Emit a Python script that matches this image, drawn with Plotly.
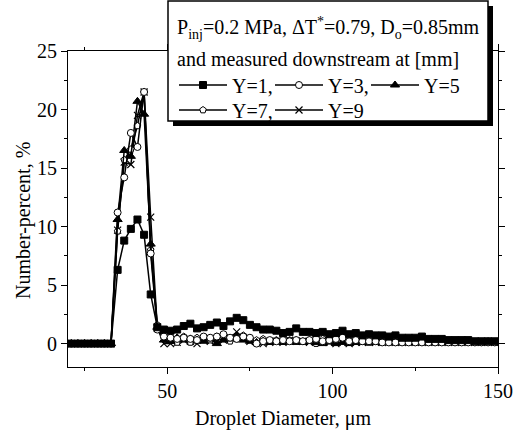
import plotly.graph_objects as go

# ---------------- data ----------------
diameter = [21, 23, 25, 27, 29, 31, 33, 35, 37, 39, 41, 43, 45, 47, 49, 51, 53, 55, 57, 59,
            61, 63, 65, 67, 69, 71, 73, 75, 77, 79, 81, 83, 85, 87, 89, 91, 93, 95, 97, 99,
            101, 103, 105, 107, 109, 111, 113, 115, 117, 119, 121, 123, 125, 127, 129, 131,
            133, 135, 137, 139, 141, 143, 145, 147, 149]

y1 = [0, 0, 0, 0, 0, 0, 0, 6.3, 8.8, 9.8, 10.6, 9.3, 4.2, 1.4, 1.2, 1.1, 1.2, 1.5, 1.7, 1.3,
      1.4, 1.6, 1.8, 1.5, 1.9, 2.2, 2.0, 1.6, 1.4, 1.2, 1.2, 1.1, 0.9, 1.0, 1.3, 1.0, 1.0, 0.9, 1.0, 0.8,
      0.9, 1.1, 0.8, 0.9, 0.7, 0.8, 0.7, 0.7, 0.6, 0.7, 0.5, 0.5, 0.5, 0.6, 0.4, 0.4,
      0.4, 0.3, 0.3, 0.3, 0.3, 0.2, 0.2, 0.2, 0.2]

y3 = [0, 0, 0, 0, 0, 0, 0, 11.2, 14.2, 18.0, 16.8, 21.5, 7.7, 1.2, 0.6, 0.5, 0.4, 0.5, 0.4, 0.3,
      0.6, 0.5, 0.6, 0.8, 0.5, 0.4, 0.6, 0.5, 0.0, 0.2, 0.3, 0.2, 0.3, 0.2, 0.3, 0.2, 0.3, 0.4, 0.2, 0.3,
      0.4, 0.5, 0.2, 0.3, 0.2, 0.2, 0.2, 0.1, 0.1, 0.1, 0.1, 0.1, 0.1, 0.1, 0.1, 0.1,
      0.1, 0.1, 0.1, 0.1, 0.1, 0.1, 0.1, 0.1, 0.1]

y5 = [0, 0, 0, 0, 0, 0, 0, 10.6, 16.5, 16.0, 20.7, 19.6, 8.5, 1.4, 0.3, 0.2, 0.5, 0.3, 0.4, 0.3,
      0.2, 0.4, 0.0, 0.3, 0.4, 0.6, 0.3, 0.2, 0.1, 0.2, 0.1, 0.2, 0.1, 0.2, 0.1, 0.1, 0.2, 0.1, 0.0, 0.2,
      0.0, 0.1, 0.0, 0.1, 0.1, 0.1, 0.1, 0.1, 0.1, 0.1, 0.1, 0.1, 0.1, 0.1, 0.1, 0.1,
      0.1, 0.1, 0.1, 0.1, 0.1, 0.1, 0.1, 0.1, 0.1]

y7 = [0, 0, 0, 0, 0, 0, 0, 9.6, 15.7, 16.6, 18.6, 21.5, 8.0, 1.6, 0.5, 0.3, 0.1, 0.6, 0.1, 0.5,
      0.4, 0.3, 0.6, 0.6, 0.2, 0.4, 0.7, 0.4, 0.3, 0.4, 0.2, 0.3, 0.2, 0.3, 0.3, 0.2, 0.3, 0.0, 0.4, 0.2,
      0.3, 0.6, 0.1, 0.2, 0.2, 0.1, 0.2, 0.1, 0.2, 0.1, 0.1, 0.2, 0.1, 0.1, 0.2, 0.1,
      0.1, 0.2, 0.1, 0.1, 0.2, 0.1, 0.1, 0.2, 0.1]

y9 = [0, 0, 0, 0, 0, 0, 0, 9.7, 15.5, 15.3, 19.5, 21.5, 10.8, 1.3, 0.0, 0.0, 0.1, 0.3, 0.2, 0.0,
      0.3, 0.2, 0.4, 0.3, 0.5, 1.0, 0.5, 0.2, 0.1, 0.0, 0.1, 0.2, 0.1, 0.3, 0.2, 0.2, 0.1, 0.2, 0.1, 0.1,
      0.0, 0.2, 0.0, 0.1, 0.1, 0.1, 0.1, 0.1, 0.1, 0.1, 0.1, 0.1, 0.1, 0.1, 0.1, 0.1,
      0.1, 0.1, 0.1, 0.1, 0.1, 0.1, 0.1, 0.1, 0.1]

series_names = ["Y=1,", "Y=3,", "Y=5", "Y=7,", "Y=9"]
x_ticks = [50, 100, 150]
y_ticks = [0, 5, 10, 15, 20, 25]

# ---------------- layout constants (pixels) ----------------
W, H = 514, 437
ML, MR, MT, MB = 68, 16, 51, 70
PW, PH = W - ML - MR, H - MT - MB
FONT = "Liberation Serif"


def px_x(px):
    return (px - ML) / PW


def px_y(py):
    return (H - MB - py) / PH


styles = {
    "Y=1,": dict(symbol="square", size=7, color="black", line=dict(color="black", width=1)),
    "Y=3,": dict(symbol="circle", size=7, color="white", line=dict(color="black", width=1)),
    "Y=5": dict(symbol="triangle-up", size=8, color="black", line=dict(color="black", width=1)),
    "Y=7,": dict(symbol="pentagon", size=7, color="white", line=dict(color="black", width=1)),
    "Y=9": dict(symbol="x-thin", size=7, color="black", line=dict(color="black", width=1.2)),
}
legend_of = {"Y=1,": "legend", "Y=3,": "legend", "Y=5": "legend", "Y=7,": "legend2", "Y=9": "legend2"}
rank = {"Y=1,": 1, "Y=3,": 2, "Y=5": 3, "Y=7,": 4, "Y=9": 5}
values = {"Y=1,": y1, "Y=3,": y3, "Y=5": y5, "Y=7,": y7, "Y=9": y9}

fig = go.Figure()
for name in ["Y=9", "Y=7,", "Y=5", "Y=3,", "Y=1,"]:
    fig.add_trace(go.Scatter(
        x=diameter, y=values[name], mode="lines+markers", name=name,
        line=dict(color="black", width=1.5),
        marker=styles[name],
        legend=legend_of[name], legendrank=rank[name],
    ))

axis_common = dict(
    showline=True, linecolor="black", linewidth=1, mirror="allticks",
    ticks="outside", ticklen=6, tickwidth=1, tickcolor="black",
    showgrid=False, zeroline=False, automargin=False,
    tickfont=dict(family=FONT, size=20, color="black"),
)

fig.update_xaxes(
    range=[20, 150], tickvals=x_ticks,
    minor=dict(ticks="outside", ticklen=3, tickvals=[25, 75, 125], tickcolor="black"),
    title=dict(text="Droplet Diameter, μm", font=dict(family=FONT, size=20, color="black"), standoff=9),
    **axis_common,
)
fig.update_yaxes(
    range=[-2, 25], tickvals=y_ticks,
    minor=dict(ticks="outside", ticklen=3, dtick=2.5, tick0=0, tickcolor="black"),
    **axis_common,
)

# legend box with shadow
BX0, BY0, BX1, BY1 = 168, 1, 488, 121
SH = 5
shapes = [
    dict(type="rect", xref="paper", yref="paper", layer="above",
         x0=px_x(BX0 + SH), x1=px_x(BX1 + SH), y0=px_y(BY1 + SH), y1=px_y(BY0 + SH),
         fillcolor="black", line=dict(width=0)),
    dict(type="rect", xref="paper", yref="paper", layer="above",
         x0=px_x(BX0), x1=px_x(BX1), y0=px_y(BY1), y1=px_y(BY0),
         fillcolor="white", line=dict(color="black", width=1.5)),
]

annotations = [
    dict(text="P<sub>inj</sub>=0.2 MPa, ΔT<sup>*</sup>=0.79, D<sub>o</sub>=0.85mm",
         xref="paper", yref="paper", x=px_x(175), y=px_y(28), xanchor="left", yanchor="middle",
         showarrow=False, font=dict(family=FONT, size=20, color="black")),
    dict(text="and measured downstream at [mm]",
         xref="paper", yref="paper", x=px_x(175), y=px_y(59), xanchor="left", yanchor="middle",
         showarrow=False, font=dict(family=FONT, size=20, color="black")),
    dict(text="Number-percent, %", textangle=-90,
         xref="paper", yref="paper", x=px_x(23), y=px_y(221), xanchor="center", yanchor="middle",
         showarrow=False, font=dict(family=FONT, size=20, color="black")),
]

leg_common = dict(orientation="h", bgcolor="rgba(0,0,0,0)", borderwidth=0,
                  font=dict(family=FONT, size=20, color="black"),
                  xanchor="left", yanchor="middle", itemwidth=48,
                  entrywidth=33, entrywidthmode="pixels",
                  tracegroupgap=0, traceorder="normal")

fig.update_layout(
    width=W, height=H,
    margin=dict(l=ML, r=MR, t=MT, b=MB, pad=0, autoexpand=False),
    paper_bgcolor="white", plot_bgcolor="white",
    font=dict(family=FONT, size=20, color="black"),
    shapes=shapes, annotations=annotations,
    legend=dict(x=px_x(174), y=px_y(85), **leg_common),
    legend2=dict(x=px_x(174), y=px_y(110), **leg_common),
    showlegend=True,
)

fig.write_html("out.html", config={"displayModeBar": False},
               post_script="document.body.style.margin='0';")
